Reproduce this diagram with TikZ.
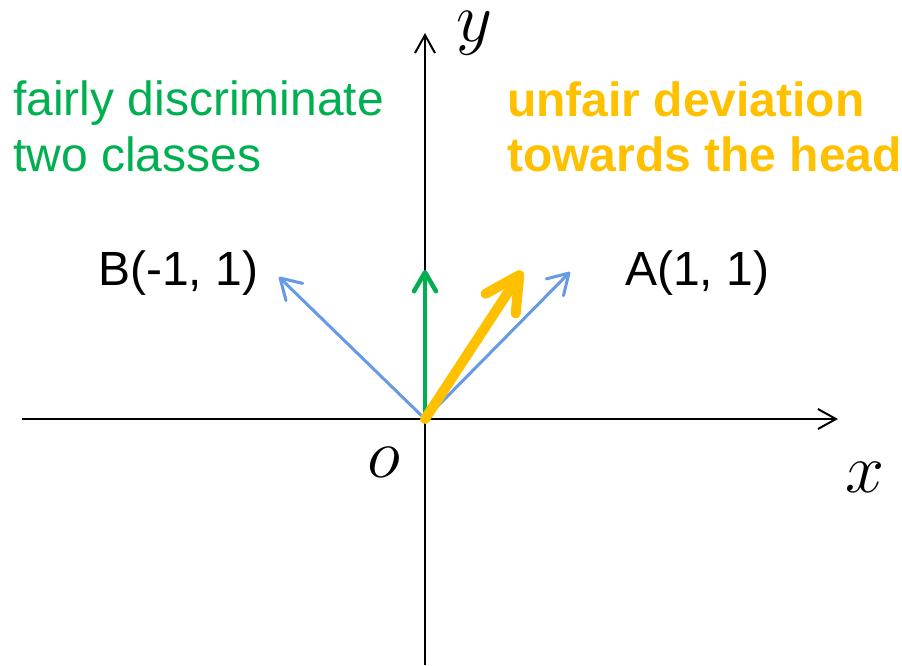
\RequirePackage{fix-cm}
\documentclass[tikz,border=0pt]{standalone}
\usepackage{fontspec}
\setmainfont{Liberation Sans}
\usetikzlibrary{arrows.meta}
\definecolor{fgreen}{RGB}{0,176,80}
\definecolor{fyellow}{RGB}{255,192,0}
\definecolor{fblue}{RGB}{102,153,230}
\begin{document}
\begin{tikzpicture}[x=1pt,y=-1pt,
  txt/.style={inner sep=0pt,anchor=base west,font=\fontsize{48}{57}\selectfont},
  mlab/.style={inner sep=0pt,anchor=base,font=\fontsize{70}{72}\selectfont},
  axis/.style={black,line width=2pt,-{Straight Barb[length=18pt,width=20pt,line width=2pt]}},
  vecblue/.style={fblue,line width=3pt,line cap=round,-{Straight Barb[length=20pt,width=24pt,line cap=round,line join=round]}},
  vecgreen/.style={fgreen,line width=4.5pt,line cap=round,-{Straight Barb[length=19pt,width=22pt,line cap=round,line join=round]}},
  vecyellow/.style={fyellow,line width=10pt,line cap=round,-{Straight Barb[length=34pt,width=36pt,line cap=round,line join=round]}}]
\useasboundingbox (0,0) rectangle (902,665);
\coordinate (O) at (425,419);
\coordinate (xl) at (22,419);
\coordinate (xr) at (838,419);
\coordinate (yb) at (425,665);
\coordinate (yt) at (425,33);
\coordinate (Atip) at (570,272);
\coordinate (Btip) at (279,277);
\coordinate (Gtip) at (425,270);
\coordinate (Ytip) at (522,271);
\draw[axis] (xl) -- (xr);
\draw[axis] (yb) -- (yt);
\draw[vecblue] (O) -- (Btip);
\draw[vecblue] (O) -- (Atip);
\draw[vecgreen] (O) -- (Gtip);
\draw[vecyellow] (O) -- (Ytip);
\node[mlab] (ylab) at (474,41) {$y$};
\node[mlab] (xlab) at (865,492) {$x$};
\node[mlab] (olab) at (384,477) {$o$};
\node[txt,text=fgreen] (g1) at (13,115) {fairly discriminate};
\node[txt,text=fgreen] (g2) at (13,171) {two classes};
\node[txt,text=fyellow,font=\fontsize{48}{57}\selectfont\bfseries] (y1) at (507,116) {unfair deviation};
\node[txt,text=fyellow,font=\fontsize{48}{57}\selectfont\bfseries] (y2) at (507,171) {towards the head};
\node[txt] (Blab) at (98,285) {B(-1, 1)};
\node[txt] (Alab) at (625,285) {A(1, 1)};
\end{tikzpicture}
\end{document}
